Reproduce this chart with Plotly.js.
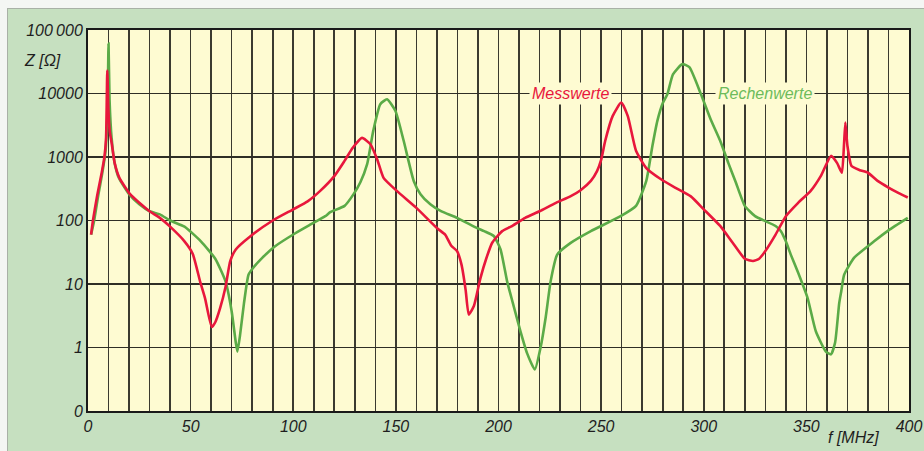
<!DOCTYPE html>
<html>
<head>
<meta charset="utf-8">
<script src="https://cdn.plot.ly/plotly-3.0.1.min.js"></script>
<style>
html,body{margin:0;padding:0;background:#f4f6f3;width:924px;height:451px;overflow:hidden;}
#chart{position:absolute;left:7px;top:8px;width:917px;height:443px;border-left:1px solid #a9b1a6;border-top:1px solid #a9b1a6;}
</style>
</head>
<body>
<div id="chart"></div>
<script>
// Messwerte (measured)
const fRed = [1.5, 2.4, 4.5, 6.7, 8.0, 8.8, 9.4, 9.9, 10.6, 11.6, 13, 15.3, 20.5, 25, 30, 35, 40, 47, 51, 54.6, 57, 60.3, 62, 64.4, 67, 69.3, 72, 79, 90, 100, 107, 113, 120, 125, 129, 133.5, 137.6, 141, 144, 150.6, 160, 170, 174, 177, 179.8, 182, 184, 185.5, 188, 191.2, 194, 197, 201.8, 206, 213, 220, 228, 235, 240, 245, 248, 250, 252, 255.6, 259.8, 263, 267, 272, 279, 286, 293.7, 300, 308, 314, 320, 324, 327, 330, 335, 340, 346, 352, 357, 362, 365, 367.3, 368.3, 369, 370, 372, 376, 380, 384.7, 390, 395, 399.4];
const zRed = [60, 100, 250, 570, 1000, 2000, 23000, 6000, 2500, 1600, 800, 470, 260, 190, 140, 110, 80, 47, 30, 11, 6, 2.1, 2.5, 4.2, 9, 23, 35, 56, 100, 150, 200, 290, 500, 870, 1400, 2000, 1590, 900, 470, 290, 158, 76, 60, 40, 33, 20, 8, 3.3, 4.5, 12.4, 25, 45, 68, 80, 110, 140, 190, 240, 300, 420, 600, 900, 1800, 4400, 7200, 4400, 1250, 670, 450, 330, 240, 150, 82, 45, 25, 23, 25, 33, 60, 117, 190, 290, 500, 1040, 800, 565, 1500, 3500, 1500, 720, 620, 565, 420, 330, 270, 230];

// Rechenwerte (calculated)
const fGreen = [1.5, 3, 5, 7, 8.5, 9.5, 10, 10.5, 11.5, 13, 15, 20, 25, 30, 35, 40, 47, 55, 62, 67, 70, 72, 72.8, 74, 76, 78.2, 80.5, 85, 91, 101, 108, 115.6, 118, 125, 129.4, 132.7, 136, 139, 142.4, 145.7, 149.8, 153.8, 158.7, 162, 166.8, 172, 179.8, 189.6, 193, 197.7, 201, 204.2, 207, 210.7, 214, 217.7, 220.5, 223, 225.4, 228.6, 235, 245, 259.5, 267, 272, 275, 277.4, 280, 282.3, 285, 289.6, 293, 298.5, 303.4, 308, 312, 315.6, 320, 325, 335, 337.6, 340, 342.4, 346, 350.6, 354.6, 359.5, 362, 364, 366, 367, 368.4, 373.3, 383, 390, 399.4];
const zGreen = [60, 100, 250, 570, 1200, 5000, 61000, 8000, 2000, 800, 470, 260, 180, 140, 125, 100, 80, 47, 25, 11, 3.7, 1.2, 0.86, 1.5, 5, 14, 18, 26, 39, 63, 85, 117, 135, 170, 260, 400, 770, 2600, 6800, 8100, 5300, 1800, 420, 260, 180, 140, 110, 76, 68, 57, 35, 11, 5, 1.8, 0.8, 0.45, 1, 3, 11, 29, 44, 68, 117, 170, 420, 1500, 3700, 7000, 9800, 20000, 29000, 26000, 10000, 3900, 1800, 800, 400, 170, 117, 82, 68, 47, 29, 15, 6, 1.8, 0.86, 0.78, 1.2, 5, 7.7, 14, 26, 47, 70, 110];

const xTickVals = [0,10,20,30,40,50,60,70,80,90,100,110,120,130,140,150,160,170,180,190,200,210,220,230,240,250,260,270,280,290,300,310,320,330,340,350,360,370,380,390,400];
const xTickText = xTickVals.map(v => (v % 50 === 0 ? String(v) : ''));
const yTickVals = [0.1, 1, 10, 100, 1000, 10000, 100000];
const yTickText = ['0', '1', '10', '100', '1000', '10000', '100\u2009000'];

const fontFam = 'Liberation Sans, Arial, sans-serif';
const tickFont = {family: fontFam, size: 16, color: '#1e1e1e', style: 'italic'};

const traces = [
  {x: fGreen, y: zGreen, type: 'scatter', mode: 'lines', name: 'Rechenwerte',
   line: {color: '#5bab47', width: 2.6, shape: 'spline', smoothing: 0.5}},
  {x: fRed, y: zRed, type: 'scatter', mode: 'lines', name: 'Messwerte',
   line: {color: '#e8173c', width: 2.6, shape: 'spline', smoothing: 0.5}}
];

const layout = {
  width: 917, height: 443,
  margin: {l: 80, r: 16, t: 21, b: 41},
  paper_bgcolor: '#c6e0c0',
  plot_bgcolor: '#fefbd2',
  showlegend: false,
  xaxis: {
    range: [0, 400], tickvals: xTickVals, ticktext: xTickText,
    showgrid: true, gridcolor: '#3b3a30', gridwidth: 1.6,
    showline: true, linecolor: '#1a1a1a', linewidth: 2, mirror: true,
    ticks: '', zeroline: false, tickfont: tickFont
  },
  yaxis: {
    type: 'log', range: [-1, 5], tickvals: yTickVals, ticktext: yTickText,
    showgrid: true, gridcolor: '#2f2e26', gridwidth: 1.6,
    showline: true, linecolor: '#1a1a1a', linewidth: 2, mirror: true,
    ticks: '', zeroline: false, tickfont: tickFont
  },
  annotations: [
    {xref: 'x', yref: 'y', x: 235, y: 4, xanchor: 'center', yanchor: 'middle', text: 'Messwerte', showarrow: false,
     font: {family: fontFam, size: 16, color: '#e8173c', style: 'italic'},
     bgcolor: '#fefbd2', borderpad: 2},
    {xref: 'x', yref: 'y', x: 330, y: 4, xanchor: 'center', yanchor: 'middle', text: 'Rechenwerte', showarrow: false,
     font: {family: fontFam, size: 16, color: '#6dbb5b', style: 'italic'},
     bgcolor: '#fefbd2', borderpad: 2},
    {xref: 'paper', yref: 'paper', x: -0.056, y: 0.921, xanchor: 'center', yanchor: 'middle', text: 'Z [\u03a9]', showarrow: false,
     font: {family: fontFam, size: 16, color: '#1e1e1e', style: 'italic'}},
    {xref: 'paper', yref: 'paper', x: 0.932, y: -0.07, xanchor: 'center', yanchor: 'middle', text: 'f [MHz]', showarrow: false,
     font: {family: fontFam, size: 16, color: '#1e1e1e', style: 'italic'}}
  ]
};

Plotly.newPlot('chart', traces, layout, {displayModeBar: false, staticPlot: true});
</script>
</body>
</html>
